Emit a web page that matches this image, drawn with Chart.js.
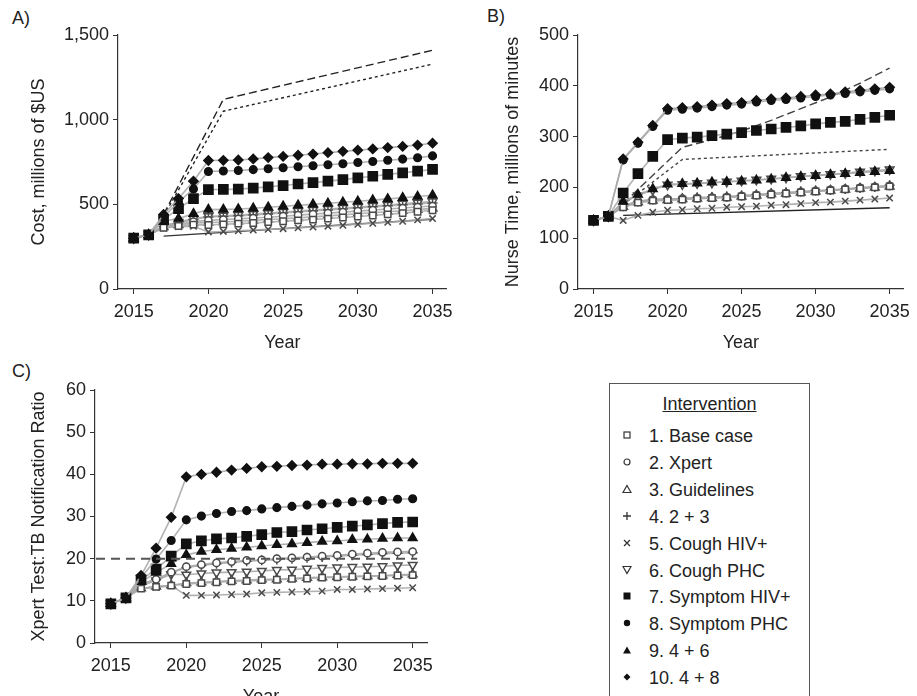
<!DOCTYPE html>
<html><head><meta charset="utf-8">
<script src="https://cdn.jsdelivr.net/npm/chart.js@4.4.0/dist/chart.umd.min.js"></script>
<style>
html,body{margin:0;padding:0;background:#fff;overflow:hidden;}
body{width:917px;height:696px;position:relative;font-family:"Liberation Sans",Arial,sans-serif;color:#222;}
.pw{position:absolute;}
.lbl{position:absolute;font-size:18px;line-height:20px;}
#legend{position:absolute;left:609px;top:383px;width:201px;height:330px;border:1px solid #555;box-sizing:border-box;}
#legend .ttl{position:absolute;left:0;width:100%;top:9px;text-align:center;font-size:18px;line-height:22px;text-decoration:underline;}
#legend .row{position:absolute;left:0;height:24px;width:100%;}
#legend .row svg{position:absolute;left:12px;top:6px;}
#legend .row span{position:absolute;left:39px;top:1px;font-size:18px;line-height:22px;white-space:nowrap;}
</style></head>
<body>
<div class="lbl" style="left:12px;top:8px;">A)</div>
<div class="lbl" style="left:487px;top:6px;">B)</div>
<div class="lbl" style="left:12px;top:361px;">C)</div>
<div class="pw" style="left:0;top:0;width:460px;height:354px;"><canvas id="cA"></canvas></div>
<div class="pw" style="left:460px;top:0;width:457px;height:354px;"><canvas id="cB"></canvas></div>
<div class="pw" style="left:0;top:330px;width:460px;height:378px;"><canvas id="cC"></canvas></div>
<div id="legend"><div class="ttl">Intervention</div></div>
<script>
// ---------- DATA ----------
const YEARS = [2015,2016,2017,2018,2019,2020,2021,2022,2023,2024,2025,2026,2027,2028,2029,2030,2031,2032,2033,2034,2035];
const X_TICKS = [2015,2020,2025,2030,2035];
const INTERVENTIONS = ["1. Base case","2. Xpert","3. Guidelines","4. 2 + 3","5. Cough HIV+","6. Cough PHC","7. Symptom HIV+","8. Symptom PHC","9. 4 + 6","10. 4 + 8"];

// Panel A: cost, millions of $US
const costBase     = [300,320,362,372,380,378,382,386,390,395,400,405,410,416,422,428,434,441,448,456,465];
const costXpert    = [300,320,370,382,398,405,410,414,419,424,430,436,442,448,454,460,466,472,478,484,490];
const costGuide    = [300,320,366,378,390,392,396,400,405,410,415,420,426,432,438,444,450,456,462,469,476];
const cost2plus3   = [300,320,372,390,410,425,428,432,437,443,449,455,461,467,473,479,485,491,497,502,508];
const costCoughHIV = [300,320,360,368,370,337,340,344,348,352,356,361,366,371,376,382,388,394,400,408,416];
const costCoughPHC = [300,320,375,395,415,430,433,437,442,448,454,460,466,472,478,484,490,496,503,510,516];
const costSympHIV  = [300,320,410,475,534,587,588,590,596,603,611,620,628,637,646,656,666,677,686,696,706];
const costSympPHC  = [300,320,425,514,591,694,697,700,705,710,716,722,728,734,740,747,753,760,767,775,786];
const cost4plus6   = [300,320,400,416,445,469,470,472,477,483,489,495,500,506,512,518,525,532,539,546,554];
const cost4plus8   = [300,320,440,534,637,759,760,762,768,776,783,790,797,805,813,820,827,835,842,850,861];
const costRefYears = [2017,2021,2035];
const costRefLong  = [440,1120,1410];
const costRefShort = [430,1050,1328];
const costSolidYears = [2017,2035];
const costSolid    = [312,412];

// Panel B: nurse time, millions of minutes
const nurseBase     = [135,143,161,170,174,175,176,178,179,180,182,184,186,188,190,192,194,196,198,200,202];
const nurseXpert    = [135,143,164,173,176,177,178,179,180,181,183,185,188,189,191,193,195,197,199,201,203];
const nurseGuide    = [135,143,162,171,174,175,177,178,179,180,182,184,187,188,190,192,194,196,198,200,202];
const nurse2plus3   = [135,143,163,172,176,177,178,180,181,182,184,186,188,190,192,194,195,197,199,201,204];
const nurseCoughHIV = [135,143,135,145,151,155,156,158,159,161,162,163,165,166,168,170,171,173,175,177,179];
const nurseCoughPHC = [135,143,170,184,195,205,206,208,209,211,213,215,217,219,222,224,226,228,231,233,235];
const nurseSympHIV  = [135,143,189,227,261,294,297,299,302,305,308,312,315,318,321,325,328,330,334,338,342];
const nurseSympPHC  = [135,143,254,287,320,352,354,356,359,362,364,368,371,373,376,379,382,385,388,391,394];
const nurse4plus6   = [135,143,172,186,197,206,207,208,210,211,212,214,216,219,221,223,225,227,229,231,233];
const nurse4plus8   = [135,143,256,289,322,355,357,359,362,365,367,371,374,376,379,382,384,388,391,394,397];
const nurseLongYears = [2017,2021,2023,2025,2027,2029,2031,2033,2035];
const nurseRefLong   = [168,279,294,311,332,355,378,405,435];
const nurseShortYears = [2017,2021,2035];
const nurseRefShort  = [166,255,275];
const nurseSolidYears = [2017,2035];
const nurseSolid     = [145,160];

// Panel C: Xpert test : TB notification ratio
const ratioBase     = [9.3,10.7,12.9,13.3,13.6,14.0,14.2,14.4,14.6,14.7,14.9,15.0,15.2,15.3,15.5,15.6,15.7,15.8,15.9,16.0,16.1];
const ratioXpert    = [9.3,10.7,14.0,15.1,16.8,18.1,18.6,19.0,19.3,19.6,19.7,20.0,20.2,20.4,20.6,20.8,21.1,21.3,21.5,21.6,21.7];
const ratioGuide    = [9.3,10.7,13.0,13.4,13.7,14.2,14.4,14.6,14.8,14.9,15.1,15.1,15.3,15.5,15.6,15.7,15.8,15.9,16.0,16.2,16.3];
const ratio2plus3   = [9.3,10.7,13.9,15.0,16.6,17.9,18.4,18.8,19.1,19.4,19.6,19.8,20.0,20.2,20.4,20.6,20.8,21.0,21.2,21.3,21.4];
const ratioCoughHIV = [9.3,10.7,13.0,13.2,13.6,11.3,11.3,11.4,11.5,11.6,11.9,12.0,12.1,12.2,12.3,12.7,12.7,12.8,12.9,13.0,13.1];
const ratioCoughPHC = [9.3,10.7,13.5,14.8,16.3,16.2,16.5,16.7,16.8,16.9,17.1,17.3,17.4,17.6,17.8,17.9,18.0,18.1,18.2,18.4,18.5];
const ratioSympHIV  = [9.3,10.7,15.0,17.5,20.6,23.5,24.2,24.7,24.9,25.3,25.7,26.2,26.4,26.8,27.1,27.4,27.7,28.0,28.3,28.6,28.7];
const ratioSympPHC  = [9.3,10.7,15.5,19.9,24.3,29.2,30.1,30.7,31.2,31.4,31.8,32.1,32.4,32.7,33.0,33.2,33.5,33.7,33.8,34.1,34.2];
const ratio4plus6   = [9.3,10.7,14.5,16.7,18.8,20.9,21.7,22.1,22.4,22.7,23.0,23.3,23.5,23.8,24.1,24.2,24.5,24.6,24.8,24.9,24.9];
const ratio4plus8   = [9.3,10.7,16.0,22.5,29.8,39.4,40.0,40.5,41.0,41.4,41.8,41.9,42.1,42.2,42.4,42.4,42.5,42.5,42.6,42.6,42.6];
const RATIO_TARGET = 20;
const RATIO_TARGET_END = 2035.3;

// ---------- STYLES ----------
const FONT = '"Liberation Sans", Arial, sans-serif';
const DARK = '#111', OPEN = '#4a4a4a', LINE = 'rgba(170,170,170,0.9)';
const STYLES = [
  {ps:'rect',     r:4.5, fill:'#fff', stroke:OPEN, rot:0},   // 1
  {ps:'circle',   r:3.6, fill:'#fff', stroke:OPEN, rot:0},   // 2
  {ps:'triangle', r:5,   fill:'#fff', stroke:OPEN, rot:0},   // 3
  {ps:'cross',    r:5,   fill:OPEN,   stroke:OPEN, rot:0},   // 4
  {ps:'crossRot', r:4.5, fill:OPEN,   stroke:OPEN, rot:0},   // 5
  {ps:'triangle', r:5,   fill:'#fff', stroke:OPEN, rot:180}, // 6
  {ps:'rect',     r:6.5, fill:DARK,   stroke:DARK, rot:0},   // 7
  {ps:'circle',   r:3.8, fill:DARK,   stroke:DARK, rot:0},   // 8
  {ps:'triangle', r:5,   fill:DARK,   stroke:DARK, rot:0},   // 9
  {ps:'rectRot',  r:4.6, fill:DARK,   stroke:DARK, rot:0}    // 10
];

function pts(xs, ys){ return xs.map((x,i)=>({x:x, y:ys[i]})); }

function seriesSets(arrs){
  const order = [9,7,6,8,0,1,2,3,5,4];
  return order.map(k => {
    const s = STYLES[k];
    return {
      label: INTERVENTIONS[k],
      data: pts(YEARS, arrs[k]),
      borderColor: LINE, borderWidth: 1.6,
      pointStyle: s.ps, pointRadius: s.r, pointRotation: s.rot,
      pointBackgroundColor: s.fill, pointBorderColor: s.stroke, pointBorderWidth: 1.5,
      tension: 0
    };
  });
}
function refSet(xs, ys, dash, color, width){
  return {label:'', data: pts(xs, ys), borderColor: color, borderWidth: width, borderDash: dash,
          pointRadius: 0, tension: 0, fill: false};
}

function makeOptions(o){
  return {
    responsive: true, maintainAspectRatio: false, animation: false,
    layout: {padding: o.pad},
    plugins: {legend:{display:false}, tooltip:{enabled:false}},
    scales: {
      x: {
        type:'linear', min:2013.95, max:2035.95,
        afterBuildTicks: s => { s.ticks = X_TICKS.map(v=>({value:v})); },
        afterFit: s => { s.height = 65; },
        ticks: {callback: v => String(v), font:{family:FONT,size:18}, color:'#222', padding:7, maxRotation:0, autoSkip:false},
        grid: {display:true, drawOnChartArea:false, drawTicks:true, tickLength:5, color:'#333'},
        border: {display:true, color:'#333', width:1.2},
        title: {display:true, text:'Year', font:{family:FONT,size:18}, color:'#222', padding:{top:0,bottom:0}}
      },
      y: {
        min:o.min, max:o.max,
        afterBuildTicks: s => { s.ticks = o.ticks.map(v=>({value:v})); },
        afterFit: s => { s.width = o.yWidth; },
        ticks: {callback: o.fmt, font:{family:FONT,size:18}, color:'#222', padding:4},
        grid: {display:true, drawOnChartArea:false, drawTicks:true, tickLength:5, color:'#333'},
        border: {display:true, color:'#333', width:1.2},
        title: {display:true, text:o.title, font:{family:FONT,size:18}, color:'#222', padding:{top:o.titlePad,bottom:0}}
      }
    }
  };
}

// Panel A
new Chart(document.getElementById('cA'), {
  type:'line',
  data:{datasets:[
    ...seriesSets([costBase,costXpert,costGuide,cost2plus3,costCoughHIV,costCoughPHC,costSympHIV,costSympPHC,cost4plus6,cost4plus8]),
    refSet(costSolidYears, costSolid, [], '#333', 1.4),
    refSet(costRefYears, costRefLong, [8,4], '#222', 1.4),
    refSet(costRefYears, costRefShort, [3,3], '#222', 1.4)
  ]},
  options: makeOptions({pad:{top:35,right:10,left:0,bottom:0}, min:0, max:1500, ticks:[0,500,1000,1500],
    fmt: v => v.toLocaleString('en-US'), yWidth:118, title:'Cost, millions of $US', titlePad:28})
});

// Panel B
new Chart(document.getElementById('cB'), {
  type:'line',
  data:{datasets:[
    ...seriesSets([nurseBase,nurseXpert,nurseGuide,nurse2plus3,nurseCoughHIV,nurseCoughPHC,nurseSympHIV,nurseSympPHC,nurse4plus6,nurse4plus8]),
    refSet(nurseSolidYears, nurseSolid, [], '#222', 1.4),
    refSet(nurseLongYears, nurseRefLong, [8,4], '#444', 1.4),
    refSet(nurseShortYears, nurseRefShort, [3,3], '#444', 1.4)
  ]},
  options: makeOptions({pad:{top:35,right:7,left:0,bottom:0}, min:0, max:500, ticks:[0,100,200,300,400,500],
    fmt: v => String(v), yWidth:118, title:'Nurse Time, millions of minutes', titlePad:42})
});

// Panel C
const targetLine = {
  id:'targetLine',
  afterDatasetsDraw(chart){
    const {ctx, chartArea, scales} = chart;
    const y = scales.y.getPixelForValue(RATIO_TARGET);
    const x2 = scales.x.getPixelForValue(RATIO_TARGET_END);
    ctx.save(); ctx.strokeStyle='#555'; ctx.lineWidth=2; ctx.setLineDash([9,6]);
    ctx.beginPath(); ctx.moveTo(chartArea.left+1, y); ctx.lineTo(x2, y); ctx.stroke(); ctx.restore();
  }
};
new Chart(document.getElementById('cC'), {
  type:'line',
  data:{datasets: seriesSets([ratioBase,ratioXpert,ratioGuide,ratio2plus3,ratioCoughHIV,ratioCoughPHC,ratioSympHIV,ratioSympPHC,ratio4plus6,ratio4plus8])},
  options: makeOptions({pad:{top:60,right:33,left:0,bottom:0}, min:0, max:60, ticks:[0,10,20,30,40,50,60],
    fmt: v => String(v), yWidth:95, title:'Xpert Test:TB Notification Ratio', titlePad:28}),
  plugins:[targetLine]
});

// Legend
const SVGS = [
  '<rect x="2" y="2" width="6" height="6" fill="#fff" stroke="#333" stroke-width="1.2"/>',
  '<circle cx="5" cy="5" r="3" fill="#fff" stroke="#333" stroke-width="1.2"/>',
  '<polygon points="5,1.5 9,8.5 1,8.5" fill="#fff" stroke="#333" stroke-width="1.2"/>',
  '<path d="M5 1 V9 M1 5 H9" stroke="#333" stroke-width="1.3"/>',
  '<path d="M2 2 L8 8 M8 2 L2 8" stroke="#333" stroke-width="1.3"/>',
  '<polygon points="1,1.5 9,1.5 5,8.5" fill="#fff" stroke="#333" stroke-width="1.2"/>',
  '<rect x="1.5" y="1.5" width="7" height="7" fill="#111"/>',
  '<circle cx="5" cy="5" r="3.2" fill="#111"/>',
  '<polygon points="5,1.5 9,8.5 1,8.5" fill="#111"/>',
  '<polygon points="5,1.5 8.5,5 5,8.5 1.5,5" fill="#111"/>'
];
const leg = document.getElementById('legend');
INTERVENTIONS.forEach((name,i)=>{
  const row = document.createElement('div');
  row.className='row';
  row.style.top = (40 + i*26.9) + 'px';
  row.innerHTML = '<svg width="10" height="10" viewBox="0 0 10 10">'+SVGS[i]+'</svg><span></span>';
  row.querySelector('span').textContent = name;
  leg.appendChild(row);
});
</script>
</body></html>
